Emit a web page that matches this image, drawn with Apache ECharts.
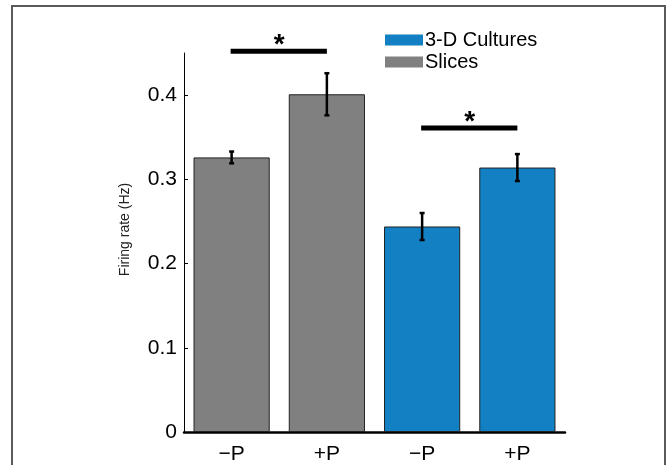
<!DOCTYPE html>
<html>
<head>
<meta charset="utf-8">
<script src="https://cdn.jsdelivr.net/npm/echarts@6/dist/echarts.min.js"></script>
<style>html,body{margin:0;padding:0;background:#fff}#c{width:667px;height:465px}</style>
</head>
<body>
<div id="c"></div>
<script>
const categories = ['\u2212P', '+P', '\u2212P', '+P'];
const slicesMean = [0.326, 0.401, '-', '-'];
const culturesMean = ['-', '-', 0.244, 0.314];
const means = [0.326, 0.401, 0.244, 0.314];
const errors = [0.007, 0.025, 0.016, 0.016];
const sigPairs = [[0, 1, 0.452], [2, 3, 0.361]];
const yTicks = [0, 0.1, 0.2, 0.3, 0.4];

const FONT = 'Liberation Sans, Arial, Helvetica, sans-serif';
const errData = means.map((m, i) => [i, m - errors[i], m + errors[i]]);

const chart = echarts.init(document.getElementById('c'), null, {renderer: 'canvas'});
chart.setOption({
  animation: false,
  backgroundColor: '#fff',
  grid: {left: 184, right: 102, top: 53, bottom: 32, containLabel: false},
  legend: {
    data: ['3-D Cultures', 'Slices'],
    orient: 'vertical',
    left: 380, top: 25,
    itemWidth: 38, itemHeight: 11, itemGap: 2,
    icon: 'rect',
    itemStyle: {borderWidth: 0},
    textStyle: {fontFamily: FONT, fontSize: 20, color: '#000', padding: [0, 0, 0, -3]}
  },
  xAxis: {
    type: 'category',
    data: categories,
    axisLine: {lineStyle: {color: '#000', width: 2.5}},
    axisTick: {show: false},
    axisLabel: {fontFamily: FONT, fontSize: 21, color: '#000', margin: 12}
  },
  yAxis: {
    type: 'value',
    min: 0, max: 0.45, interval: 0.1,
    name: 'Firing rate (Hz)',
    nameLocation: 'middle',
    nameGap: 52,
    nameTextStyle: {fontFamily: FONT, fontSize: 14, color: '#222', padding: [0, 0, 0, 26]},
    axisLine: {show: true, lineStyle: {color: '#000', width: 1}},
    axisTick: {show: true, inside: true, length: 4, lineStyle: {color: '#000'}, customValues: yTicks},
    axisLabel: {fontFamily: FONT, fontSize: 21, color: '#000', margin: 7, customValues: yTicks},
    splitLine: {show: false}
  },
  series: [
    {
      name: 'Slices', type: 'bar', stack: 'all', data: slicesMean, barWidth: '80%',
      itemStyle: {color: '#808080', borderColor: '#222', borderWidth: 1}
    },
    {
      name: '3-D Cultures', type: 'bar', stack: 'all', data: culturesMean, barWidth: '80%',
      itemStyle: {color: '#1280C2', borderColor: '#222', borderWidth: 1}
    },
    {
      name: 'err', type: 'custom', data: errData, z: 10,
      encode: {x: 0, y: [1, 2]},
      renderItem: function (params, api) {
        const lo = api.coord([api.value(0), api.value(1)]);
        const hi = api.coord([api.value(0), api.value(2)]);
        const w = 2.5;
        const st = {stroke: '#000', lineWidth: 2.5};
        return {type: 'group', children: [
          {type: 'line', shape: {x1: lo[0], y1: lo[1], x2: hi[0], y2: hi[1]}, style: st},
          {type: 'line', shape: {x1: lo[0] - w, y1: lo[1], x2: lo[0] + w, y2: lo[1]}, style: st},
          {type: 'line', shape: {x1: hi[0] - w, y1: hi[1], x2: hi[0] + w, y2: hi[1]}, style: st}
        ]};
      }
    },
    {
      name: 'sig', type: 'custom', data: sigPairs, z: 10, clip: false,
      encode: {x: [0, 1], y: 2},
      renderItem: function (params, api) {
        const p0 = api.coord([api.value(0), api.value(2)]);
        const p1 = api.coord([api.value(1), api.value(2)]);
        return {type: 'group', children: [
          {type: 'rect', shape: {x: p0[0] - 1, y: p0[1] - 2.5, width: p1[0] - p0[0] + 1, height: 5}, style: {fill: '#000'}},
          {type: 'text', x: (p0[0] + p1[0]) / 2, y: p0[1] - 6,
           style: {text: '*', fill: '#000', font: 'bold 28px ' + FONT, align: 'center', verticalAlign: 'middle'}}
        ]};
      }
    }
  ],
  graphic: [{
    type: 'rect', silent: true,
    shape: {x: 12, y: 6, width: 653, height: 480},
    style: {fill: 'none', stroke: '#5a5a5a', lineWidth: 2}
  }]
});
</script>
</body>
</html>
